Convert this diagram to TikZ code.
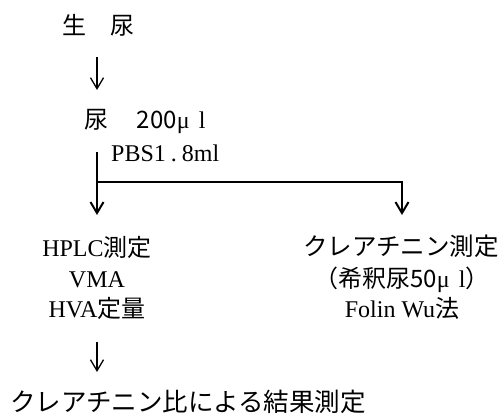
\documentclass[tikz,border=0pt]{standalone}
\usepackage{fontspec}
\setmainfont{Liberation Serif}
\newfontfamily\cjk{Noto Sans CJK JP}
\usetikzlibrary{arrows.meta}
\tikzset{
  txt/.style={inner sep=0pt, anchor=base, font=\fontsize{24}{30}\selectfont},
  thinarr/.style={line width=1.3pt, -{Straight Barb[length=11pt,width=13pt]}},
  splitarr/.style={line width=2pt, -{Straight Barb[length=11pt,width=13pt]}},
}
\newcommand{\mucell}{\makebox[22pt][l]{μ}}
\begin{document}
\begin{tikzpicture}[x=1pt,y=-1pt]
\useasboundingbox (0,0) rectangle (503,414);
% texts
\node[txt] (raw) at (98.5,35) {\cjk 生\hspace{1em}尿};
\node[txt, anchor=base west] (urine) at (84,129) {{\cjk 尿\hspace{1.2em}200}\mucell l};
\node[txt, anchor=base west] (pbs) at (111,162) {PBS1\hspace{5pt}.\hspace{5pt}8ml};
\node[txt] (hplc) at (97,256) {HPLC{\cjk 測定}};
\node[txt] (vma) at (97,287) {VMA};
\node[txt] (hva) at (97,317) {HVA{\cjk 定量}};
\node[txt, font=\fontsize{24.5}{30}\selectfont] (crea) at (401,255) {\cjk クレアチニン測定};
\node[txt] (dil) at (402,287) {{\cjk （希釈尿50}\mucell l{\cjk ）}};
\node[txt] (folin) at (402,317) {Folin Wu{\cjk 法}};
\node[txt, anchor=base west, font=\fontsize{25.5}{30}\selectfont] (ratio) at (10,411) {\cjk クレアチニン比による結果測定};
% connectors
\coordinate (a1s) at (97,57);
\coordinate (a1e) at (97,90);
\draw[thinarr] (a1s) -- (a1e);
\coordinate (split) at (97,152);
\coordinate (branch) at (97,182);
\coordinate (lend) at (97,215);
\coordinate (rend) at (402,215);
\draw[splitarr] (split) -- (lend);
\draw[splitarr] (branch) -| (rend);
\coordinate (a3s) at (97,342);
\coordinate (a3e) at (97,372);
\draw[thinarr] (a3s) -- (a3e);
\end{tikzpicture}
\end{document}
